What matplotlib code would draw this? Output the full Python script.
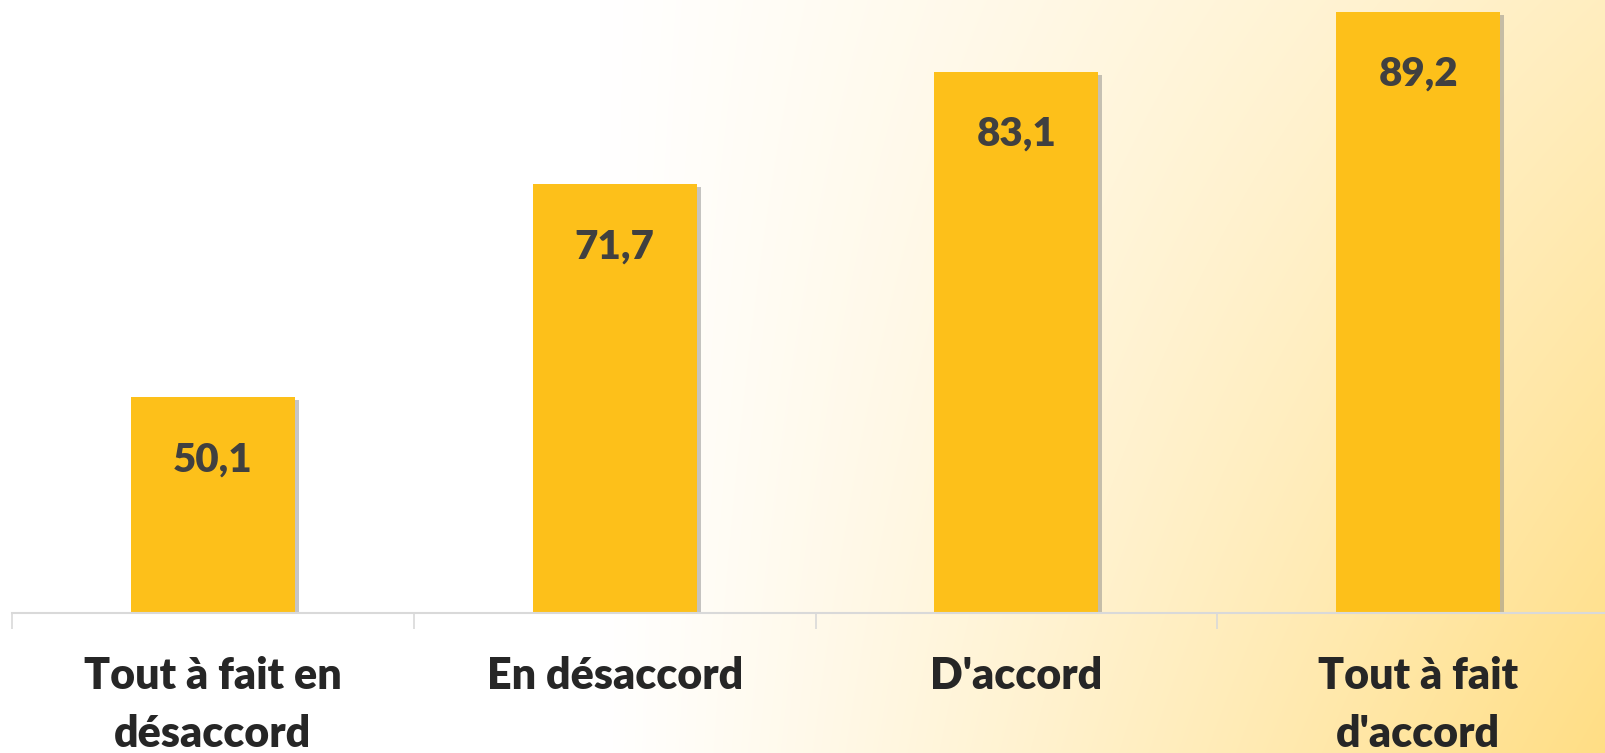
import numpy as np
import matplotlib
matplotlib.use("Agg")
import matplotlib.pyplot as plt
import matplotlib.patheffects as pe

# data
categories = ["Tout à fait en\ndésaccord", "En désaccord", "D'accord", "Tout à fait\nd'accord"]
values = [50.1, 71.7, 83.1, 89.2]
value_labels = ["50,1", "71,7", "83,1", "89,2"]

bar_color = "#FDC01A"
text_color = "#404040"
label_color = "#262626"
axis_color = "#D9D9D9"

plt.rcParams['font.family'] = ['Lato', 'DejaVu Sans']

fig = plt.figure(figsize=(16.05, 7.53), dpi=100)

# background: white on the left, fading to light yellow toward the bottom-right
W, H = 1605, 753
xx, yy = np.meshgrid(np.arange(W), np.arange(H))
t = np.clip((xx - 600) / 1005, 0, 1) * (0.55 + 0.45 * yy / H)
t = t ** 1.1
white = np.array([1.0, 1.0, 1.0])
yellow = np.array([1.0, 0.87, 0.52])
bg = white * (1 - t[..., None]) + yellow * t[..., None]
bgax = fig.add_axes([0, 0, 1, 1], zorder=0)
bgax.imshow(bg, aspect='auto', extent=[0, 1, 0, 1], origin='upper')
bgax.axis('off')

ax = fig.add_axes([12 / W, 140 / H, 1607 / W, 613 / H], zorder=1)
ax.patch.set_alpha(0)

x = np.arange(len(categories))
bars = ax.bar(x, values, width=0.408, color=bar_color, zorder=2)
for b in bars:
    b.set_path_effects([pe.SimplePatchShadow(offset=(3, -2), shadow_rgbFace='#7f7f7f', alpha=0.45),
                        pe.Normal()])

for xi, v, lab in zip(x, values, value_labels):
    ax.annotate(lab, (xi, v), xytext=(0, -45), textcoords='offset points',
                ha='center', va='center', fontsize=29, fontweight='heavy',
                color=text_color, zorder=3)

ax.set_xlim(-0.5, 3.5)
ax.set_ylim(28.2, 90.4)

for s in ['left', 'right', 'top']:
    ax.spines[s].set_visible(False)
ax.spines['bottom'].set_color(axis_color)
ax.spines['bottom'].set_linewidth(1.5)
ax.spines['bottom'].set_zorder(4)

ax.set_yticks([])
ax.set_xticks(x)
ax.set_xticklabels(categories, fontsize=31, fontweight='heavy', color=label_color,
                   linespacing=1.55, va='top')
ax.set_xticks(x - 0.5, minor=True)
ax.tick_params(axis='x', which='major', length=0, pad=31)
ax.tick_params(axis='x', which='minor', length=11.5, width=1.2, color=axis_color)

fig.savefig("out.png", dpi=100)
